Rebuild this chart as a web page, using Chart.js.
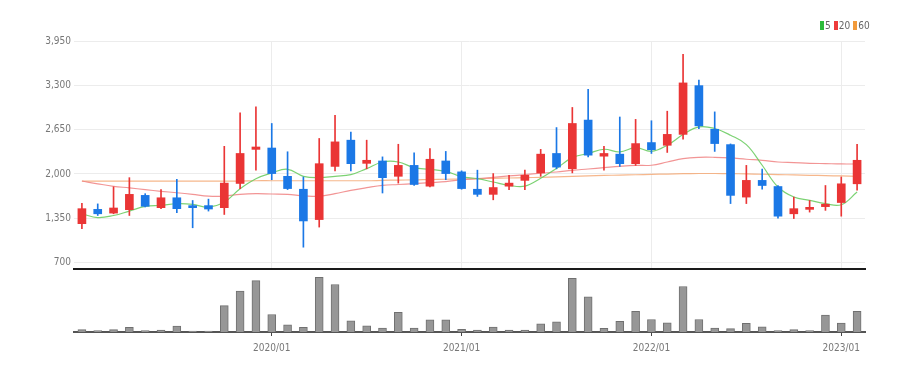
<!DOCTYPE html>
<html>
<head>
<meta charset="utf-8">
<script src="https://cdn.jsdelivr.net/npm/chart.js@4.4.0/dist/chart.umd.min.js"></script>
<style>
  body { margin: 0; background: #fff; }
  #wrap { position: relative; width: 920px; height: 374px; }
  #priceChart { position: absolute; left: 0; top: 0; }
  #volChart { position: absolute; left: 0; top: 270px; }
  #legend { position: absolute; left: 820px; top: 20px; font: 10px 'Liberation Sans Narrow', 'DejaVu Sans Condensed', sans-serif; color: #666; white-space: nowrap; }
  #legend span.box { display: inline-block; width: 4px; height: 9px; vertical-align: -1px; margin-right: 1px; }
  #legend span.item { margin-right: 3px; }
</style>
</head>
<body>
<div id="wrap">
  <canvas id="priceChart" width="920" height="280"></canvas>
  <canvas id="volChart" width="920" height="104"></canvas>
  <div id="legend"><span class="item"><span class="box" style="background:#2dbb3a"></span>5</span><span class="item"><span class="box" style="background:#ee3b3b"></span>20</span><span class="item"><span class="box" style="background:#f29a3a"></span>60</span></div>
</div>
<script>
// monthly candles 2019/01 - 2023/02
var months = [];
for (var y = 2019; y <= 2023; y++) {
    for (var m = 1; m <= 12; m++) {
        if (y === 2023 && m > 2) break;
        months.push(y + '/' + (m < 10 ? '0' + m : m));
    }
}

var opens = [1270, 1480, 1425, 1475, 1685, 1505, 1650, 1535, 1535, 1505,
             1860, 2360, 2380, 1965, 1775, 1330, 2110, 2495, 2155, 2190,
             1965, 2125, 1820, 2190, 2030, 1775, 1700, 1820, 1905, 2015,
             2300, 2075, 2790, 2260, 2290, 2150, 2460, 2420, 2580, 3295,
             2655, 2430, 1660, 1905, 1815, 1415, 1480, 1520, 1580, 1855];
var closes = [1490, 1415, 1500, 1700, 1525, 1650, 1490, 1505, 1485, 1865,
              2300, 2395, 2005, 1785, 1310, 2150, 2470, 2150, 2200, 1945,
              2125, 1845, 2215, 2005, 1785, 1700, 1800, 1865, 1980, 2290,
              2100, 2740, 2275, 2300, 2150, 2445, 2355, 2580, 3335, 2705,
              2445, 1685, 1905, 1830, 1380, 1490, 1510, 1555, 1855, 2200];
var highs = [1570, 1560, 1810, 1945, 1710, 1770, 1920, 1610, 1630, 2405,
             2895, 2985, 2740, 2325, 1955, 2520, 2860, 2615, 2495, 2250,
             2435, 2310, 2370, 2330, 2045, 2055, 2005, 1980, 2055, 2360,
             2680, 2975, 3240, 2405, 2835, 2800, 2780, 2920, 3755, 3375,
             2910, 2440, 2125, 2070, 1830, 1660, 1610, 1830, 1955, 2435];
var lows = [1195, 1390, 1415, 1390, 1515, 1490, 1430, 1210, 1455, 1405,
            1785, 2055, 1915, 1770, 925, 1220, 2045, 2045, 2075, 1720,
            1865, 1830, 1810, 1915, 1775, 1670, 1620, 1770, 1770, 1965,
            2075, 2015, 2250, 2055, 2110, 2125, 2300, 2315, 2510, 2665,
            2330, 1565, 1565, 1775, 1350, 1345, 1440, 1465, 1380, 1760];

var ma5 = [1415, 1360, 1390, 1455, 1523, 1540, 1562, 1553, 1514, 1587,
           1783, 1930, 2014, 2068, 1965, 1945, 1965, 1989, 2077, 2175,
           2175, 2092, 2068, 2038, 1960, 1930, 1881, 1832, 1820, 1935,
           2080, 2239, 2300, 2362, 2322, 2386, 2330, 2421, 2577, 2690,
           2666, 2568, 2430, 2127, 1808, 1661, 1612, 1563, 1548, 1734];
var ma20 = [1896, 1855, 1818, 1795, 1769, 1745, 1724, 1700, 1675, 1675,
            1700, 1710, 1705, 1700, 1680, 1671, 1710, 1759, 1798, 1832,
            1845, 1858, 1872, 1886, 1915, 1930, 1950, 1970, 1990, 2010,
            2028, 2053, 2072, 2092, 2112, 2126, 2127, 2175, 2225, 2244,
            2244, 2234, 2215, 2200, 2175, 2166, 2156, 2151, 2146, 2146];
var ma60 = [1895, 1895, 1895, 1895, 1895, 1895, 1895, 1895, 1895, 1895,
            1895, 1900, 1900, 1900, 1900, 1900, 1900, 1900, 1900, 1905,
            1910, 1912, 1918, 1922, 1925, 1930, 1935, 1940, 1945, 1950,
            1958, 1965, 1972, 1978, 1983, 1988, 1993, 1998, 2003, 2006,
            2006, 2004, 2000, 1995, 1990, 1985, 1980, 1975, 1970, 1965];

// volume, thousands of shares
var volumes = [70, 40, 70, 140, 40, 60, 180, 30, 30, 800,
               1240, 1560, 530, 220, 140, 1660, 1440, 340, 190, 120,
               600, 120, 370, 370, 80, 60, 150, 60, 60, 250,
               310, 1630, 1070, 110, 320, 630, 380, 280, 1380, 380,
               120, 100, 260, 160, 40, 70, 40, 510, 270, 630];

var priceTicks = [700, 1350, 2000, 2650, 3300, 3950];

var UP = '#ea3535';
var DOWN = '#1b78e6';
var fontFamily = "'Liberation Sans Narrow', 'DejaVu Sans Condensed', sans-serif";

var candleColors = closes.map(function (c, i) { return c >= opens[i] ? UP : DOWN; });
var wicks = lows.map(function (l, i) { return [l, highs[i]]; });
var bodies = opens.map(function (o, i) { return [o, closes[i]]; });

function yearTick(ctx, on, off) {
    var i = ctx.index;
    return (i % 12 === 0 && i > 0) ? on : off;
}

var priceCtx = document.getElementById('priceChart').getContext('2d');
new Chart(priceCtx, {
    type: 'bar',
    data: {
        labels: months,
        datasets: [
            { type: 'bar', label: 'body', data: bodies, backgroundColor: candleColors, borderWidth: 0,
              barThickness: 8, minBarLength: 2, grouped: false, order: 1 },
            { type: 'bar', label: 'wick', data: wicks, backgroundColor: candleColors, borderWidth: 0,
              barThickness: 1, grouped: false, order: 2 },
            { type: 'line', label: '5', data: ma5, borderColor: 'rgba(110,205,100,0.9)', borderWidth: 1.2,
              pointRadius: 0, tension: 0.4, order: 3 },
            { type: 'line', label: '20', data: ma20, borderColor: 'rgba(240,130,130,0.85)', borderWidth: 1.2,
              pointRadius: 0, tension: 0.4, order: 4 },
            { type: 'line', label: '60', data: ma60, borderColor: 'rgba(244,170,120,0.85)', borderWidth: 1.2,
              pointRadius: 0, tension: 0.4, order: 5 }
        ]
    },
    options: {
        responsive: false,
        animation: false,
        layout: { padding: { top: 41, right: 55, bottom: 11, left: 0 } },
        plugins: { legend: { display: false }, tooltip: { enabled: false } },
        scales: {
            x: {
                offset: true,
                ticks: { display: false, autoSkip: false },
                grid: {
                    offset: false,
                    drawTicks: false,
                    color: function (ctx) { return yearTick(ctx, '#ececec', 'rgba(0,0,0,0)'); }
                },
                border: { display: true, color: '#1a1a1a', width: 2 }
            },
            y: {
                min: 605,
                max: 3950,
                afterBuildTicks: function (axis) {
                    axis.ticks = priceTicks.map(function (v) { return { value: v }; });
                },
                afterFit: function (axis) { axis.width = 74; },
                ticks: {
                    padding: 3,
                    color: '#777',
                    font: { family: fontFamily, size: 10 },
                    callback: function (v) { return v.toLocaleString('en-US'); }
                },
                grid: { color: '#ececec', drawTicks: false },
                border: { display: false }
            }
        }
    }
});

var volCtx = document.getElementById('volChart').getContext('2d');
new Chart(volCtx, {
    type: 'bar',
    data: {
        labels: months,
        datasets: [{
            label: 'volume',
            data: volumes,
            backgroundColor: '#979797',
            borderColor: '#707070',
            borderWidth: 1,
            barThickness: 8
        }]
    },
    options: {
        responsive: false,
        animation: false,
        layout: { padding: { top: 2, right: 55, bottom: 14, left: 74 } },
        plugins: { legend: { display: false }, tooltip: { enabled: false } },
        scales: {
            x: {
                offset: true,
                ticks: {
                    autoSkip: false,
                    maxRotation: 0,
                    padding: 6,
                    color: '#777',
                    font: { family: fontFamily, size: 10 },
                    callback: function (v, i) { return (i % 12 === 0 && i > 0) ? months[i] : ''; }
                },
                grid: {
                    offset: false,
                    drawOnChartArea: false,
                    tickLength: 4,
                    color: function (ctx) { return yearTick(ctx, '#444', 'rgba(0,0,0,0)'); }
                },
                border: { display: true, color: '#555', width: 2 }
            },
            y: {
                display: false,
                min: 0,
                max: 1820
            }
        }
    }
});
</script>
</body>
</html>
